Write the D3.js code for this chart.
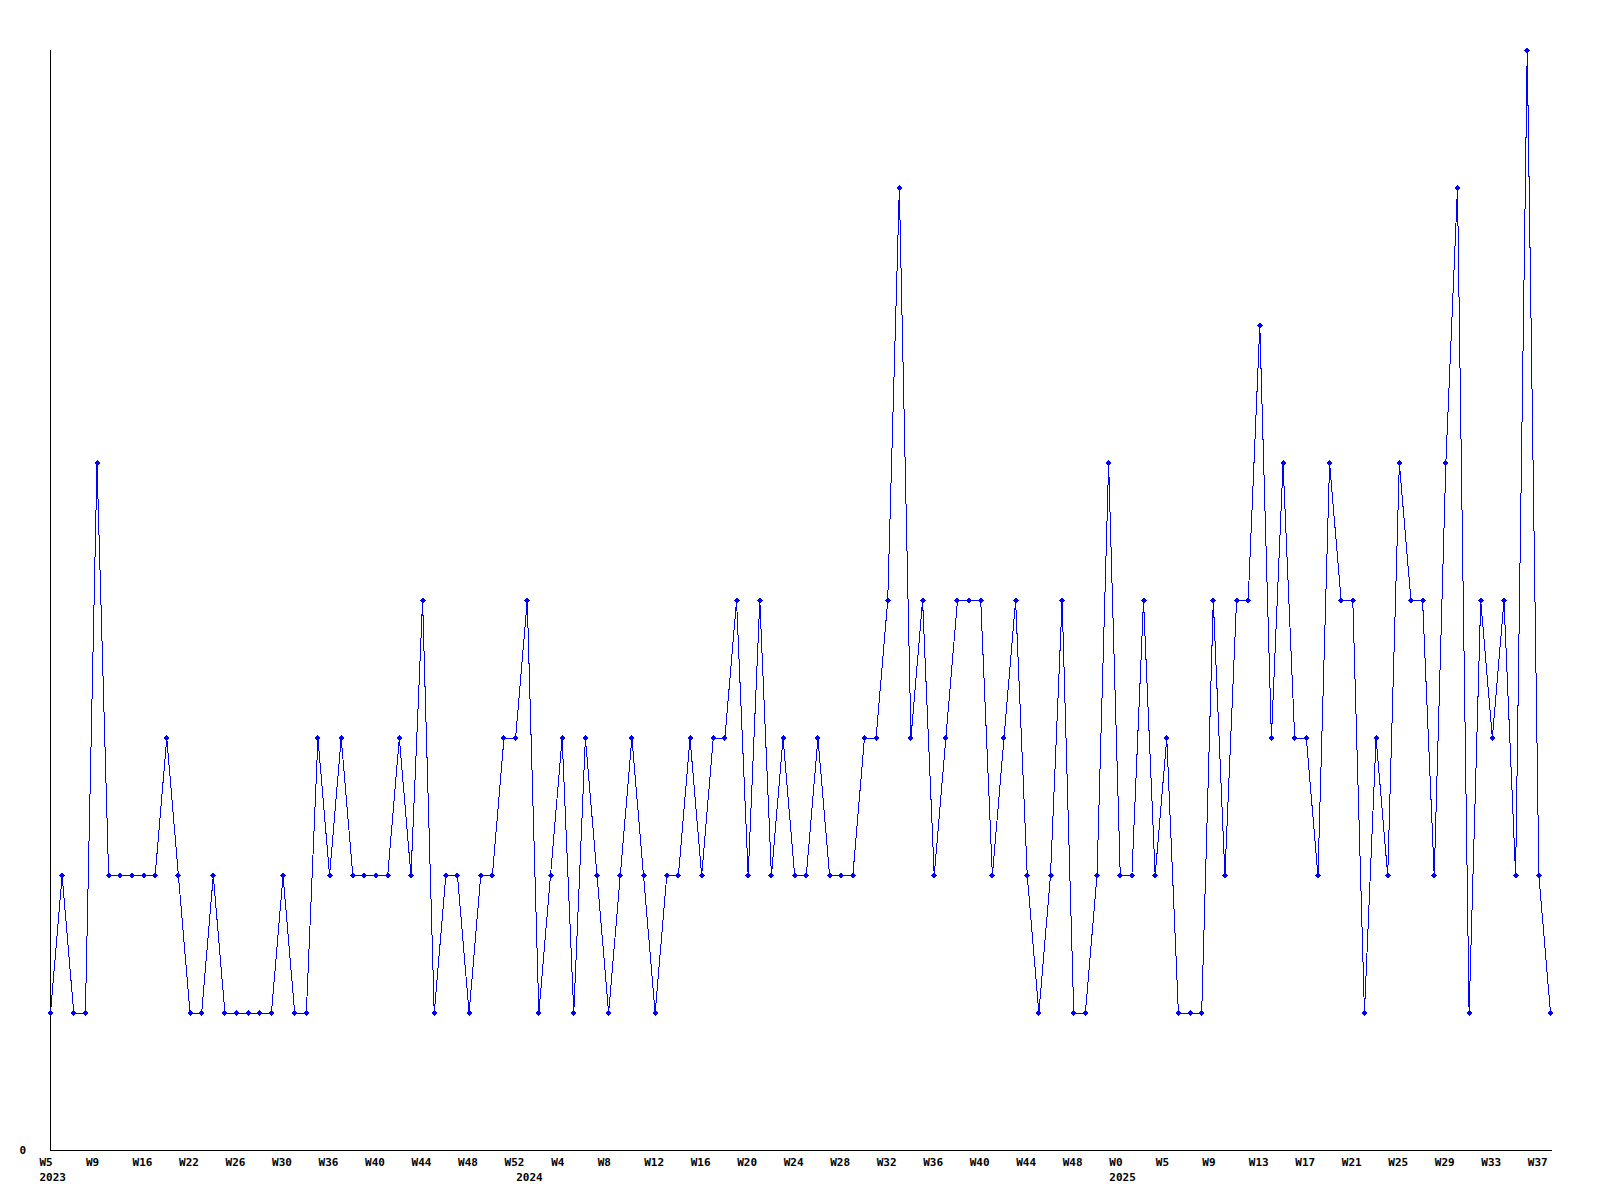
<!DOCTYPE html>
<html>
<head>
<meta charset="utf-8">
<script src="https://cdn.jsdelivr.net/npm/d3@7"></script>
<style>
  body { margin: 0; background: #fff; }
  svg { display: block; }
  text { font-family: "DejaVu Sans Mono", monospace; font-size: 11px; font-weight: bold; fill: #000; }
</style>
</head>
<body>
<svg id="chart"></svg>
<script>
const width = 1600;
const height = 1200;

// weekly counts, one per data point
const values = [
    1, 2, 1, 1, 5, 2, 2, 2, 2, 2, 3, 2, 1, 1, 2, 1, 1, 1, 1, 1,
    2, 1, 1, 3, 2, 3, 2, 2, 2, 2, 3, 2, 4, 1, 2, 2, 1, 2, 2, 3,
    3, 4, 1, 2, 3, 1, 3, 2, 1, 2, 3, 2, 1, 2, 2, 3, 2, 3, 3, 4,
    2, 4, 2, 3, 2, 2, 3, 2, 2, 2, 3, 3, 4, 7, 3, 4, 2, 3, 4, 4,
    4, 2, 3, 4, 2, 1, 2, 4, 1, 1, 2, 5, 2, 2, 4, 2, 3, 1, 1, 1,
    4, 2, 4, 4, 6, 3, 5, 3, 3, 2, 5, 4, 4, 1, 3, 2, 5, 4, 4, 2,
    5, 7, 1, 4, 3, 4, 2, 8, 2, 1
];

// a week label on every 4th point
const weekLabels = [
    'W5', 'W9', 'W16', 'W22', 'W26', 'W30', 'W36', 'W40', 'W44', 'W48', 'W52',
    'W4', 'W8', 'W12', 'W16', 'W20', 'W24', 'W28', 'W32', 'W36', 'W40', 'W44',
    'W48', 'W0', 'W5', 'W9', 'W13', 'W17', 'W21', 'W25', 'W29', 'W33', 'W37'
];
const labelStep = 4;

// year labels and the point index where each year starts
const yearLabels = ['2023', '2024', '2025'];
const yearStarts = [0, 41, 92];

const yMax = 8;

const svg = d3.select('#chart')
    .attr('width', width)
    .attr('height', height);

const x = d3.scaleLinear().domain([0, values.length - 1]).range([50.5, 1550.5]);
const y = d3.scaleLinear().domain([0, yMax]).range([1150.5, 50.5]);

// axes
svg.append('line')
    .attr('x1', 50.5).attr('x2', 50.5)
    .attr('y1', y(yMax) - 1).attr('y2', y(0))
    .attr('stroke', '#000')
    .attr('shape-rendering', 'crispEdges');

svg.append('line')
    .attr('x1', 50).attr('x2', x(values.length - 1) + 1)
    .attr('y1', y(0)).attr('y2', y(0))
    .attr('stroke', '#000')
    .attr('shape-rendering', 'crispEdges');

svg.append('text')
    .attr('x', 26)
    .attr('y', 1154)
    .attr('text-anchor', 'end')
    .text('0');

svg.append('g')
    .selectAll('text')
    .data(weekLabels)
    .enter()
    .append('text')
    .attr('x', (d, i) => x(i * labelStep) - 11)
    .attr('y', 1166)
    .text(d => d);

svg.append('g')
    .selectAll('text')
    .data(yearLabels)
    .enter()
    .append('text')
    .attr('x', (d, i) => x(yearStarts[i]) - 11)
    .attr('y', 1181)
    .text(d => d);

// series
svg.append('path')
    .datum(values)
    .attr('fill', 'none')
    .attr('stroke', '#0000ff')
    .attr('stroke-width', 1)
    .attr('shape-rendering', 'crispEdges')
    .attr('d', d3.line()
        .x((d, i) => x(i))
        .y(d => y(d)));

svg.append('g')
    .selectAll('path')
    .data(values)
    .enter()
    .append('path')
    .attr('transform', (d, i) => `translate(${x(i)},${y(d)})`)
    .attr('d', 'M-3,0L0,-3L3,0L0,3Z')
    .attr('fill', '#0000ff')
    .attr('shape-rendering', 'crispEdges');
</script>
</body>
</html>
